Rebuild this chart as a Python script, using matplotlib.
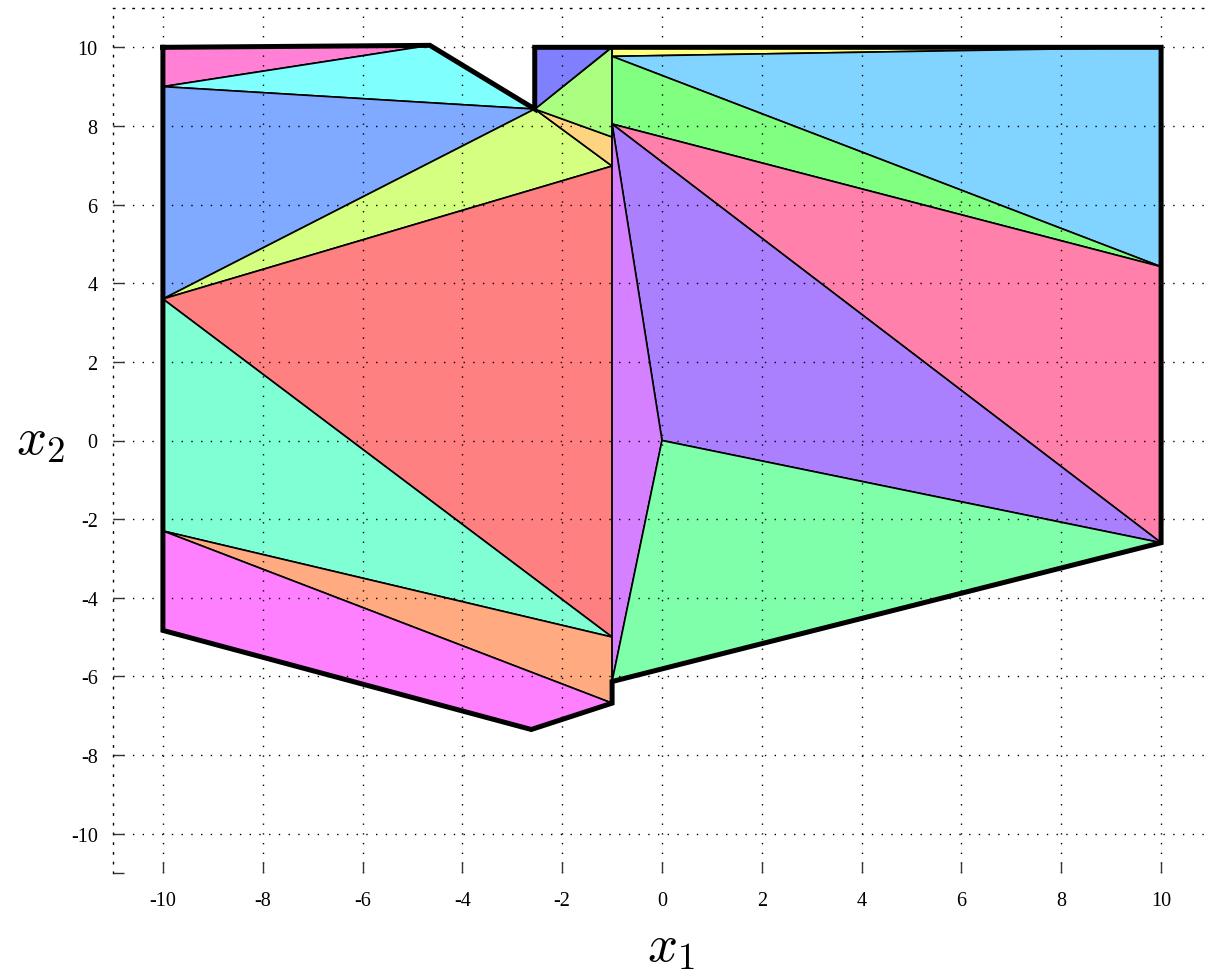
import numpy as np
import matplotlib
matplotlib.use('Agg')
from matplotlib import pyplot as plt

plt.rcParams['mathtext.fontset'] = 'cm'
plt.rcParams['font.family'] = 'Liberation Serif'
plt.rcParams['axes.unicode_minus'] = False

# vertices of the partition (x1, x2)
vx = np.array([-10.0, -4.65, -2.55, -10.0, -10.0, -1.0, -1.0, -1.0, -2.55, -1.0,
               -10.0, -1.0, -2.62, -10.0, -1.0, 10.0, 10.0, -1.0, 10.0, 0.0, -1.0])
vy = np.array([10.0, 10.05, 8.43, 9.0, 3.6, 6.98, 7.72, 10.0, 10.0, -5.0,
               -2.3, -6.68, -7.35, -4.83, 9.77, 10.0, 4.42, 8.05, -2.6, 0.0, -6.13])

# regions as vertex index lists
regions = [
    [0, 1, 3],          # top-left sliver
    [3, 1, 2],
    [3, 2, 4],
    [4, 2, 5],
    [2, 6, 5],
    [2, 7, 6],
    [2, 8, 7],
    [4, 5, 9],
    [4, 9, 10],
    [10, 9, 11],
    [10, 11, 12, 13],
    [7, 15, 14],
    [14, 15, 16],
    [14, 16, 17],
    [17, 16, 18],
    [17, 18, 19],
    [17, 19, 20],
    [19, 18, 20],
]
region_colors = ['#ff80d4', '#80ffff', '#80aaff', '#d4ff80', '#ffd480', '#aaff80',
                 '#8080ff', '#ff8080', '#80ffd4', '#ffaa80', '#ff80ff', '#ffff80',
                 '#80d4ff', '#80ff80', '#ff80aa', '#aa80ff', '#d480ff', '#80ffaa']

# outer boundary of the union
boundary = [0, 1, 2, 8, 15, 18, 20, 11, 12, 13, 0]

fig = plt.figure(figsize=(12.16, 9.78), dpi=100)
ax = fig.add_axes([113 / 1216, 1 - 874 / 978, 1098 / 1216, 865 / 978])

for idx, col in zip(regions, region_colors):
    ax.fill(vx[idx], vy[idx], facecolor=col, edgecolor='black', linewidth=1.2, zorder=1)

ax.plot(vx[boundary], vy[boundary], color='black', linewidth=3.6,
        solid_joinstyle='miter', zorder=3)

ax.set_xlim(-11, 11)
ax.set_ylim(-11, 11)
ax.set_xticks(np.arange(-10, 11, 2))
ax.set_yticks(np.arange(-10, 11, 2))
ax.set_yticks([-11], minor=True)

ax.set_axisbelow(False)
ax.grid(True, color='black', linestyle=(0, (1, 6)), linewidth=1.0)

for side in ['right', 'bottom']:
    ax.spines[side].set_visible(False)
for side in ['left', 'top']:
    ax.spines[side].set_linestyle((0, (1, 6)))
    ax.spines[side].set_linewidth(1.0)

ax.tick_params(axis='both', which='both', direction='in', length=8, width=1,
               color='#333333', labelsize=14.5)
ax.tick_params(axis='x', top=False, bottom=True, pad=13)
ax.tick_params(axis='y', left=True, right=False, pad=11)

ax.set_xlabel(r'$x_1$', fontsize=38, ha='center', va='center')
ax.set_ylabel(r'$x_2$', fontsize=38, rotation=0, ha='center', va='center')
ax.xaxis.set_label_coords(0.508, -0.085)
ax.yaxis.set_label_coords(-0.066, 0.5)

fig.savefig('out.png', dpi=100)
